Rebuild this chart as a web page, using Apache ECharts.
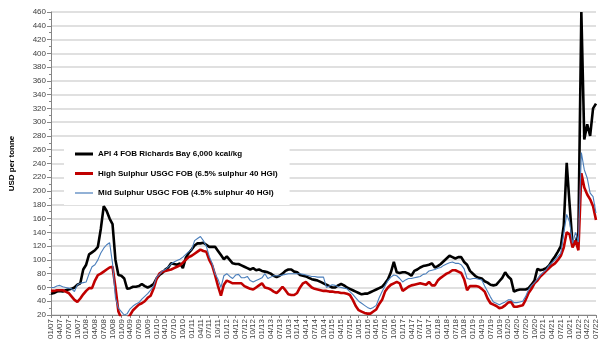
<!DOCTYPE html>
<html>
<head>
<meta charset="utf-8">
<script src="https://cdn.jsdelivr.net/npm/echarts@6/dist/echarts.min.js"></script>
<style>
  html, body { margin: 0; padding: 0; background: #fff; }
  #chart { width: 600px; height: 353px; }
</style>
</head>
<body>
<div id="chart"></div>
<script>
// monthly categories 01/07 .. 07/22
const months = []
for (let y = 7; y <= 22; y++) {
  for (let m = 1; m <= 12; m++) {
    if (y === 22 && m > 7) break
    months.push(String(m).padStart(2, '0') + '/' + String(y).padStart(2, '0'))
  }
}

const seriesNames = [
  'API 4 FOB Richards Bay 6,000 kcal/kg',
  'High Sulphur USGC FOB (6.5% sulphur 40 HGI)',
  'Mid Sulphur USGC FOB (4.5% sulphur 40 HGI)'
]

const api4 = [
  51, 52, 54, 55, 54, 56, 57, 58, 60, 64, 66, 86,
  93, 108, 111, 114, 119, 145, 178, 171, 160, 152, 100, 78,
  77, 73, 58, 59, 61, 61, 62, 65, 62, 60, 62, 65,
  73, 78, 81, 86, 89, 95, 94, 93, 95, 88, 103, 110,
  115, 121, 124, 124, 125, 122, 119, 119, 119, 113, 107, 101,
  105, 100, 95, 94, 94, 92, 90, 88, 86, 88, 85, 86,
  84, 83, 82, 80, 77, 75, 77, 80, 84, 86, 86, 83,
  82, 78, 77, 76, 74, 72, 71, 70, 68, 66, 64, 62,
  60, 60, 63, 65, 63, 60, 58, 56, 54, 52, 50, 51,
  51, 53, 55, 57, 59, 61, 66, 72, 82, 97, 82, 81,
  82, 82, 80, 77, 84, 86, 89, 91, 92, 93, 95, 89,
  91, 94, 98, 102, 106, 104, 102, 104, 104, 97, 93, 84,
  80, 76, 74, 73, 69, 67, 64, 63, 64, 69, 74, 82,
  76, 72, 54, 56, 57, 57, 57, 59, 64, 70, 87, 85,
  86, 88, 92, 99, 105, 112, 120, 150, 241, 180, 122, 124,
  140, 460, 275, 297, 280, 320, 327
]

const highSulphur = [
  55, 55, 56, 56, 56, 54, 52, 47, 42, 39, 44, 50,
  55, 59, 59, 70, 78, 80, 83, 86, 89, 90, 60, 25,
  15, 12, 15, 20, 27, 31, 35, 37, 40, 45, 48, 58,
  72, 80, 83, 84, 85, 86, 88, 90, 92, 96, 100, 104,
  106, 109, 112, 115, 113, 112, 100, 92, 78, 62, 48, 64,
  70, 68, 66, 66, 66, 66, 62, 60, 58, 57, 60, 63,
  66, 60, 59, 57, 54, 52, 56, 61, 56, 50, 49, 49,
  52, 60, 66, 68, 64, 60, 58, 57, 56, 55, 55, 54,
  54, 53, 53, 52, 52, 51, 49, 42, 33, 27, 25, 23,
  22, 22, 25, 28, 36, 42, 54, 60, 64, 66, 68, 66,
  55, 58, 61, 63, 64, 65, 66, 65, 64, 68, 63, 63,
  70, 74, 77, 80, 82, 85, 85, 83, 81, 72, 56, 62,
  62, 62, 61, 58, 54, 44, 37, 35, 33, 30, 31, 34,
  38, 39, 32, 32, 33, 34, 42, 52, 58, 66, 70, 76,
  80, 84, 88, 92, 95, 100, 106, 118, 140, 137, 118, 128,
  114, 226, 205, 195, 188, 178, 158
]

const midSulphur = [
  60, 60, 62, 63, 61, 60, 59, 58, 54, 64, 66, 67,
  68, 80, 90, 93, 100, 110, 117, 122, 125, 95, 45, 30,
  25, 20, 22, 29, 33, 36, 38, 43, 47, 51, 56, 62,
  75, 79, 84, 86, 90, 94, 97, 99, 101, 104, 108, 112,
  115, 128, 131, 134, 128, 120, 105, 95, 80, 72, 60, 77,
  80, 76, 73, 78, 79, 74, 74, 76, 70, 68, 70, 72,
  74, 80, 73, 75, 77, 77, 77, 78, 79, 80, 80, 80,
  80, 80, 79, 78, 77, 76, 76, 75, 75, 75, 60, 62,
  64, 63, 61, 60, 59, 58, 54, 50, 45, 40, 37, 34,
  31, 29, 31, 34, 45, 54, 62, 70, 75, 78, 77, 73,
  68, 71, 73, 73, 74, 75, 76, 79, 80, 84, 85, 86,
  88, 89, 92, 94, 96, 97, 95, 95, 93, 87, 73, 72,
  73, 73, 72, 71, 62, 54, 46, 39, 37, 35, 37, 39,
  42, 42, 38, 38, 39, 40, 47, 57, 63, 67, 72, 78,
  82, 86, 92, 96, 100, 105, 110, 139, 166, 155, 124, 140,
  126, 256, 231, 219, 197, 192, 168
]

const chart = echarts.init(document.getElementById('chart'), null, { renderer: 'canvas' })

const axisText = { color: '#404040', fontFamily: 'Liberation Sans', fontSize: 8 }

chart.setOption({
  animation: false,
  backgroundColor: '#fff',
  grid: { left: 48, right: 3, top: 12, bottom: 38 },
  legend: {
    orient: 'vertical',
    left: 64,
    top: 142,
    padding: [8, 12, 8, 11],
    backgroundColor: '#fff',
    itemWidth: 18,
    itemHeight: 9,
    itemGap: 11.5,
    itemStyle: { borderWidth: 0 },
    textStyle: { color: '#000', fontFamily: 'Liberation Sans', fontSize: 8, fontWeight: 'bold' },
    data: [
      { name: seriesNames[0], icon: 'path://M0,0H18V3H0Z' },
      { name: seriesNames[1], icon: 'path://M0,0H18V3H0Z' },
      { name: seriesNames[2], icon: 'path://M0,0H18V1.2H0Z' }
    ]
  },
  xAxis: {
    type: 'category',
    boundaryGap: false,
    data: months,
    axisLine: { lineStyle: { color: '#868686', width: 1 } },
    axisTick: { interval: 2, length: 3, lineStyle: { color: '#868686' } },
    axisLabel: Object.assign({ interval: 2, rotate: 90, margin: 4 }, axisText),
    splitLine: { show: false }
  },
  yAxis: {
    type: 'value',
    min: 20,
    max: 460,
    interval: 20,
    name: 'USD per tonne',
    nameLocation: 'middle',
    nameGap: 35,
    nameRotate: 90,
    nameTextStyle: { color: '#000', fontFamily: 'Liberation Sans', fontSize: 8, fontWeight: 'bold' },
    axisLine: { show: true, lineStyle: { color: '#868686', width: 1 } },
    axisTick: { show: true, length: 4, lineStyle: { color: '#868686' } },
    minorTick: { show: true, splitNumber: 2, length: 2, lineStyle: { color: '#868686' } },
    axisLabel: Object.assign({ margin: 5 }, axisText),
    splitLine: { lineStyle: { color: '#d6d6d6', width: 1.5 } }
  },
  series: [
    {
      name: seriesNames[0],
      type: 'line',
      data: api4,
      showSymbol: false,
      symbol: 'none',
      lineStyle: { color: '#000000', width: 2.6 },
      itemStyle: { color: '#000000' }
    },
    {
      name: seriesNames[1],
      type: 'line',
      data: highSulphur,
      showSymbol: false,
      symbol: 'none',
      lineStyle: { color: '#c00000', width: 2.6 },
      itemStyle: { color: '#c00000' }
    },
    {
      name: seriesNames[2],
      type: 'line',
      data: midSulphur,
      showSymbol: false,
      symbol: 'none',
      lineStyle: { color: '#4a7ebb', width: 1.1 },
      itemStyle: { color: '#4a7ebb' }
    }
  ]
})
</script>
</body>
</html>
